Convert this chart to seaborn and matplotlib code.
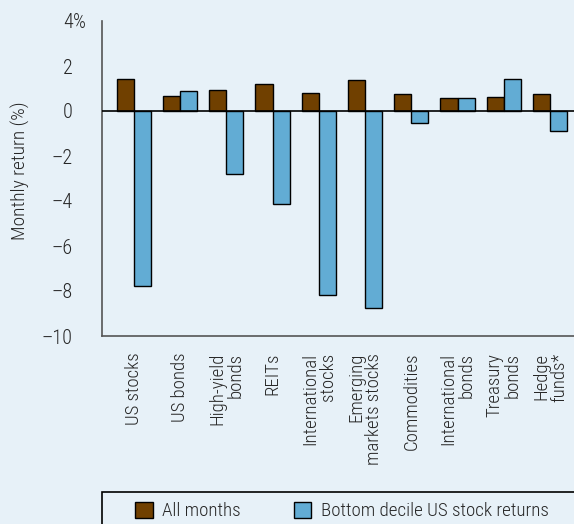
import matplotlib
matplotlib.use("Agg")
import matplotlib.pyplot as plt
import matplotlib.transforms as mtransforms
import seaborn as sns
import pandas as pd
from matplotlib.patches import Rectangle, Patch
from matplotlib import font_manager as fm

categories = ["US stocks", "US bonds", "High-yield\nbonds", "REITs", "International\nstocks",
              "Emerging\nmarkets stocks", "Commodities", "International\nbonds", "Treasury\nbonds", "Hedge\nfunds*"]
all_months = [1.42, 0.67, 0.95, 1.18, 0.78, 1.36, 0.77, 0.59, 0.61, 0.76]
bottom_decile = [-7.76, 0.87, -2.79, -4.15, -8.18, -8.74, -0.55, 0.56, 1.41, -0.87]
series_names = ["All months", "Bottom decile US stock returns"]
yticks = [4, 2, 0, -2, -4, -6, -8, -10]
ytick_labels = ["4", "2", "0", "\u20132", "\u20134", "\u20136", "\u20138", "\u201310"]

df = pd.DataFrame({
    "category": categories * 2,
    "value": all_months + bottom_decile,
    "series": [series_names[0]] * len(categories) + [series_names[1]] * len(categories),
})

BG = "#e7f1f8"
BROWN = "#704000"
BLUE = "#62acd4"

sns.set_style("white")

# pick a condensed font if one is installed
chosen_family, chosen_stretch, condensed = "Liberation Sans", "normal", False
for fam, st in [("Liberation Sans Narrow", "normal"), ("Roboto Condensed", "normal"),
                ("Open Sans Condensed", "normal"), ("Roboto", "condensed"),
                ("Noto Sans", "condensed"), ("Open Sans", "condensed"), ("DejaVu Sans", "condensed")]:
    try:
        path = fm.findfont(fm.FontProperties(family=fam, stretch=st), fallback_to_default=False)
    except Exception:
        continue
    low = path.lower()
    if "condensed" in low or "narrow" in low:
        chosen_family, chosen_stretch, condensed = fam, st, True
        break

plt.rcParams["font.family"] = [chosen_family, "DejaVu Sans"]
plt.rcParams["font.stretch"] = chosen_stretch
plt.rcParams["font.weight"] = "light"
plt.rcParams["axes.labelweight"] = "light"
scale = 1.0 if condensed else 0.87

fig = plt.figure(figsize=(5.74, 5.24), dpi=100, facecolor=BG)
ax = fig.add_axes([102/574, 1-336/524, 1-102/574, (336-21)/524])
ax.set_facecolor(BG)

sns.barplot(data=df, x="category", y="value", hue="series", order=categories,
            hue_order=series_names, palette=[BROWN, BLUE], saturation=1,
            width=0.74, edgecolor="black", linewidth=1, ax=ax, legend=False)

ax.set_ylim(-10, 4)
ax.set_xlim(-0.69, 9.52)
ax.axhline(0, color="black", lw=1.2, zorder=3)

ax.set_yticks(yticks)
ax.set_yticklabels(ytick_labels, fontsize=14.5 * scale)
ax.tick_params(axis="y", direction="out", length=7, width=1, color="#444444", pad=14)
# percent sign hanging to the right of the top label
trans = mtransforms.blended_transform_factory(ax.transAxes, ax.transData)
ax.text(-29/472, yticks[0], "%", transform=trans, ha="left", va="center_baseline",
        fontsize=14.5 * scale, fontweight="light", clip_on=False)

ax.set_xticks(range(len(categories)))
ax.set_xticklabels(categories, rotation=90, fontsize=13.5 * scale, va="top", ha="center",
                   multialignment="right", linespacing=1.0)
ax.tick_params(axis="x", direction="in", length=7, width=1, color="#333333", pad=12)

for s in ["top", "right"]:
    ax.spines[s].set_visible(False)
for s in ["left", "bottom"]:
    ax.spines[s].set_color("#555555")
    ax.spines[s].set_linewidth(1.2)

ax.set_xlabel("")
ax.set_ylabel("Monthly return (%)", fontsize=14 * scale, fontweight="light")
ax.yaxis.set_label_coords(-72/472, (336-171)/315)

# legend frame
fig.patches.append(Rectangle((101.5/574, -0.05), 1.0, 0.05 + 1 - 492/524,
                             transform=fig.transFigure, fill=False, edgecolor="black", lw=1.2))
handles = [Patch(facecolor=BROWN, edgecolor="black", lw=1),
           Patch(facecolor=BLUE, edgecolor="black", lw=1)]
fig.legend(handles, series_names, loc="center left", bbox_to_anchor=(135/574, 1-511/524),
           ncol=2, frameon=False, fontsize=13.7 * scale, borderpad=0, borderaxespad=0,
           handlelength=0.92, handleheight=0.92, handletextpad=0.5, columnspacing=2.8)

fig.savefig("out.png", dpi=100, facecolor=BG)
